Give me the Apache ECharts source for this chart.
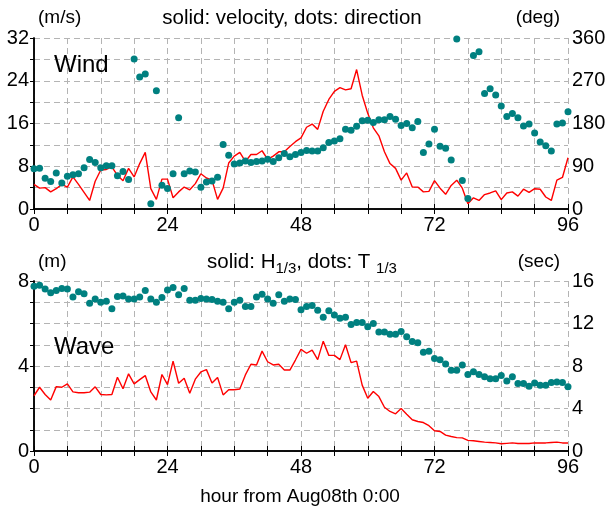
<!DOCTYPE html>
<html>
<head>
<meta charset="utf-8">
<script src="https://cdn.jsdelivr.net/npm/echarts@6/dist/echarts.min.js"></script>
<style>
html, body { margin: 0; padding: 0; background: #fff; }
#chart { width: 610px; height: 512px; }
</style>
</head>
<body>
<div id="chart"></div>
<script>
// hourly values, hour 0 .. 96 (index = hour)
var windSpeed = [
  4.6, 3.9, 4.0, 3.2, 3.8, 4.6, 4.1, 6.0, 4.6, 3.1,
  1.6, 5.2, 7.3, 7.4, 7.9, 6.3, 5.3, 7.6, 6.0, 8.5,
  10.6, 3.8, 1.8, 5.6, 5.6, 2.1, 3.2, 4.1, 3.6, 4.75,
  6.6, 5.8, 5.4, 1.8, 3.9, 8.6, 9.9, 10.6, 8.9, 10.2,
  10.2, 10.9, 9.3, 9.9, 10.7, 10.7, 11.7, 12.6, 13.3, 15.3,
  15.9, 14.9, 18.3, 20.5, 22.0, 22.7, 22.3, 22.5, 26.1, 21.3,
  17.9, 15.2, 13.7, 10.7, 8.5, 7.6, 5.4, 6.75, 4.1, 4.1,
  3.2, 3.3, 5.3, 3.9, 2.75, 4.4, 5.4, 3.9, 1.0, 2.1,
  1.6, 2.7, 3.0, 3.4, 1.75, 3.0, 3.2, 2.4, 3.7, 3.1,
  3.8, 3.7, 2.25, 1.6, 5.4, 5.9, 9.6
];
var windDir = [
  85, 86, 65, 58, 76, 55, 69, 72, 74, 87,
  104, 98, 87, 91, 91, 70, 79, 62, 316, 278,
  284, 11, 249, 50, 43, 74, 192, 74, 80, 78,
  46, 57, 59, 67, 136, 113, 95, 97, 101, 98,
  100, 101, 105, 100, 108, 117, 110, 115, 119, 123,
  122, 122, 129, 140, 143, 148, 168, 166, 174, 186,
  187, 182, 188, 188, 195, 189, 176, 180, 171, 184,
  119, 137, 168, 132, 128, 103, 358, 60, 22, 323,
  331, 243, 253, 240, 217, 195, 201, 192, 175, 179,
  160, 141, 133, 122, 179, 181, 205
];
var waveHeight = [
  2.6, 3.0, 2.66, 2.4, 3.03, 3.0, 3.16, 2.78, 2.74, 2.74,
  2.77, 3.02, 2.66, 2.64, 2.66, 3.47, 2.93, 3.63, 3.16, 3.36,
  3.55, 2.78, 2.4, 3.6, 3.12, 4.23, 3.19, 3.42, 2.72, 3.38,
  3.72, 3.83, 3.2, 3.46, 2.64, 2.88, 2.88, 2.92, 3.58, 4.08,
  4.05, 4.7, 4.2, 4.05, 4.08, 3.81, 3.81, 4.28, 4.78, 4.6,
  4.75, 4.3, 5.17, 4.5, 4.5, 4.3, 5.0, 4.16, 4.23, 3.1,
  2.48, 2.8, 2.56, 2.06, 1.86, 1.75, 2.0, 1.73, 1.47, 1.39,
  1.34, 1.19, 0.95, 0.92, 0.75, 0.68, 0.63, 0.62, 0.5, 0.48,
  0.45, 0.42, 0.4, 0.38, 0.34, 0.36, 0.38, 0.35, 0.35, 0.35,
  0.38, 0.38, 0.38, 0.4, 0.42, 0.38, 0.38
];
var wavePeriod = [
  15.5, 15.6, 15.25, 14.9, 15.1, 15.3, 15.25, 14.5, 15.0, 14.8,
  13.9, 14.3, 14.0, 14.1, 13.4, 14.55, 14.6, 14.3, 14.3, 14.5,
  15.1, 14.3, 14.0, 14.45, 15.15, 15.4, 14.7, 15.3, 14.2, 14.2,
  14.35, 14.3, 14.25, 14.1, 14.0, 13.4, 14.0, 14.2, 13.6, 13.6,
  14.5, 14.75, 14.3, 13.9, 14.7, 14.1, 14.3, 14.25, 13.3, 13.6,
  13.7, 13.25, 12.6, 13.2, 12.8, 12.5, 12.6, 11.9, 12.1, 12.1,
  11.7, 12.0, 11.2, 11.2, 11.0, 11.0, 11.25, 10.75, 10.3, 10.2,
  9.3, 9.4, 8.7, 8.6, 8.2, 7.6, 7.6, 8.1, 7.2, 7.45,
  7.2, 7.0, 6.8, 6.8, 7.1, 6.6, 7.0, 6.35, 6.35, 6.1,
  6.4, 6.2, 6.2, 6.45, 6.5, 6.45, 6.05
];

var FONT = '"Liberation Sans", Arial, sans-serif';
var gridColor = '#b4b4b4';
var red = '#ff0000';
var teal = '#008080';

function pairs(arr) {
  return arr.map(function (v, i) { return [i, v]; });
}

function xAxisFor(grid, top) {
  return {
    type: 'value', gridIndex: grid, position: top ? 'top' : 'bottom',
    min: 0, max: 96, interval: 24,
    axisLine: { lineStyle: { color: '#000', width: 1.5 } },
    axisTick: { inside: true, length: 5, lineStyle: { color: '#000' } },
    minorTick: { show: true, splitNumber: 4, length: 5, lineStyle: { color: '#000' } },
    axisLabel: { show: !top, fontSize: 20, color: '#000', margin: 6, fontFamily: FONT },
    splitLine: { show: !top, lineStyle: { color: gridColor, type: [6, 4] } },
    minorSplitLine: { show: !top, lineStyle: { color: gridColor, type: [6, 4] } }
  };
}

function yAxisFor(grid, right, max, interval, minor) {
  return {
    type: 'value', gridIndex: grid, position: right ? 'right' : 'left',
    min: 0, max: max, interval: interval,
    axisLine: { show: true, lineStyle: { color: '#000', width: 1.5 } },
    axisTick: { show: true, inside: right, length: 4, lineStyle: { color: '#000' } },
    minorTick: { show: true, splitNumber: minor, length: 4, lineStyle: { color: '#000' } },
    axisLabel: { fontSize: 20, color: '#000', margin: right ? 4 : 5, fontFamily: FONT },
    splitLine: { show: !right, lineStyle: { color: gridColor, type: [6, 4] } },
    minorSplitLine: { show: !right, lineStyle: { color: gridColor, type: [6, 4] } }
  };
}

function label(text, x, y, size, align) {
  return {
    type: 'text', x: x, y: y, z: 10,
    style: { text: text, fill: '#000', font: size + 'px ' + FONT, align: align || 'left', verticalAlign: 'middle' }
  };
}

var chart = echarts.init(document.getElementById('chart'));
chart.setOption({
  animation: false,
  backgroundColor: '#fff',
  grid: [
    { left: 34, top: 38, width: 534, height: 171 },
    { left: 34, top: 281, width: 534, height: 170 }
  ],
  xAxis: [xAxisFor(0, false), xAxisFor(0, true), xAxisFor(1, false), xAxisFor(1, true)],
  yAxis: [
    yAxisFor(0, false, 32, 8, 2),
    yAxisFor(0, true, 360, 90, 2),
    yAxisFor(1, false, 8, 4, 4),
    yAxisFor(1, true, 16, 4, 2)
  ],
  series: [
    { type: 'line', xAxisIndex: 0, yAxisIndex: 0, data: pairs(windSpeed), showSymbol: false,
      lineStyle: { color: red, width: 1.4 }, z: 2 },
    { type: 'scatter', xAxisIndex: 0, yAxisIndex: 1, data: pairs(windDir), symbolSize: 7,
      itemStyle: { color: teal, opacity: 1 }, z: 3 },
    { type: 'line', xAxisIndex: 2, yAxisIndex: 2, data: pairs(waveHeight), showSymbol: false,
      lineStyle: { color: red, width: 1.4 }, z: 2 },
    { type: 'scatter', xAxisIndex: 2, yAxisIndex: 3, data: pairs(wavePeriod), symbolSize: 7,
      itemStyle: { color: teal, opacity: 1 }, z: 3 }
  ],
  graphic: [
    label('(m/s)', 38, 18, 19),
    label('solid: velocity, dots: direction', 292, 18, 20.5, 'center'),
    label('(deg)', 560, 18, 19, 'right'),
    label('Wind', 54, 65, 24),
    label('(m)', 38, 262, 19),
    {
      type: 'text', x: 302, y: 262, z: 10,
      style: {
        text: '{a|solid: H}{s|1/3}{a|, dots: T }{s|1/3}',
        fill: '#000', align: 'center', verticalAlign: 'middle',
        rich: {
          a: { fontSize: 20.5, fontFamily: FONT, lineHeight: 28, verticalAlign: 'middle' },
          s: { fontSize: 15, fontFamily: FONT, lineHeight: 15, verticalAlign: 'bottom' }
        }
      }
    },
    label('(sec)', 560, 262, 19, 'right'),
    label('Wave', 54, 347, 24),
    label('hour from Aug08th 0:00', 300, 497, 19, 'center')
  ]
});
</script>
</body>
</html>
